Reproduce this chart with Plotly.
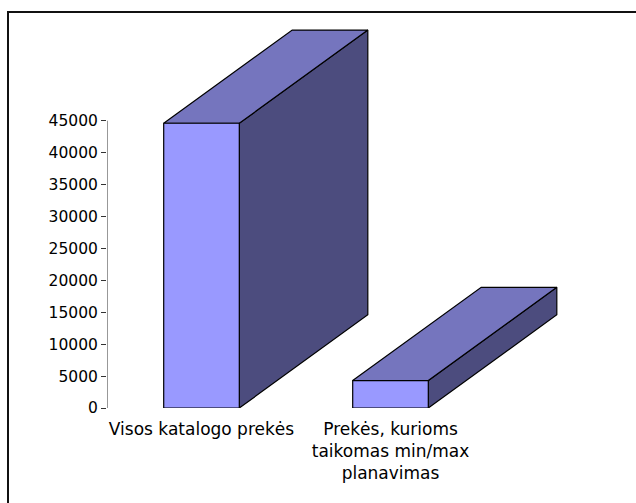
import plotly.graph_objects as go

# Data
categories = ["Visos katalogo prekės", "Prekės, kurioms<br>taikomas min/max<br>planavimas"]
values = [44600, 4300]
y_ticks = [0, 5000, 10000, 15000, 20000, 25000, 30000, 35000, 40000, 45000]

# Pseudo-3D column geometry (category units / value units)
HALF_W = 0.2          # half width of the front face
DEPTH_X = 0.68        # oblique depth offset along x
DEPTH_Y = 14600       # oblique depth offset along y

FRONT = "#9999FF"
TOP = "#7575BE"
SIDE = "#4C4C7E"
EDGE = "#000000"

W, H = 636, 503
ML, MR, MT, MB = 107, 36, 20, 95
px_per_cat = 189.0
plot_w = W - ML - MR
plot_h = H - MT - MB
px_per_val = 287.3 / 45000
x_range = [-0.5, -0.5 + plot_w / px_per_cat]
y_range = [0, plot_h / px_per_val]

fig = go.Figure()


def face(xs, ys, color):
    fig.add_trace(go.Scatter(
        x=xs + [xs[0]], y=ys + [ys[0]], mode="lines",
        fill="toself", fillcolor=color,
        line=dict(color=EDGE, width=1.2),
        hoverinfo="skip", showlegend=False,
    ))


for i, v in enumerate(values):
    x0, x1 = i - HALF_W, i + HALF_W
    # right side face
    face([x1, x1 + DEPTH_X, x1 + DEPTH_X, x1], [0, DEPTH_Y, v + DEPTH_Y, v], SIDE)
    # top face
    face([x0, x1, x1 + DEPTH_X, x0 + DEPTH_X], [v, v, v + DEPTH_Y, v + DEPTH_Y], TOP)
    # front face
    face([x0, x1, x1, x0], [0, 0, v, v], FRONT)

# value axis line spans only the tick range
fig.add_shape(type="line", xref="x", yref="y", x0=-0.5, x1=-0.5,
              y0=y_ticks[0], y1=y_ticks[-1], line=dict(color="#333333", width=1))

# outer frame
fig.add_shape(type="rect", xref="paper", yref="paper",
              x0=(8 - ML) / plot_w, x1=(W + 5 - ML) / plot_w,
              y0=-(H + 5 - (H - MB)) / plot_h, y1=(H - MB - 12) / plot_h,
              line=dict(color="#111111", width=2), fillcolor="rgba(0,0,0,0)")

fig.update_layout(
    width=W, height=H,
    margin=dict(l=ML, r=MR, t=MT, b=MB),
    paper_bgcolor="white", plot_bgcolor="white",
    font=dict(family="DejaVu Sans", size=15.5, color="#000000"),
    showlegend=False,
    xaxis=dict(range=x_range, tickvals=[0, 1], ticktext=categories,
               tickfont=dict(size=17),
               showgrid=False, zeroline=False, showline=False,
               ticks="", ticklabelstandoff=9, fixedrange=True),
    yaxis=dict(range=y_range, tickvals=y_ticks,
               ticktext=[str(t) for t in y_ticks],
               showgrid=False, zeroline=False, showline=False,
               ticks="outside", ticklen=5, tickcolor="#333333",
               ticklabelstandoff=0, fixedrange=True),
)

fig.write_html("out.html")
